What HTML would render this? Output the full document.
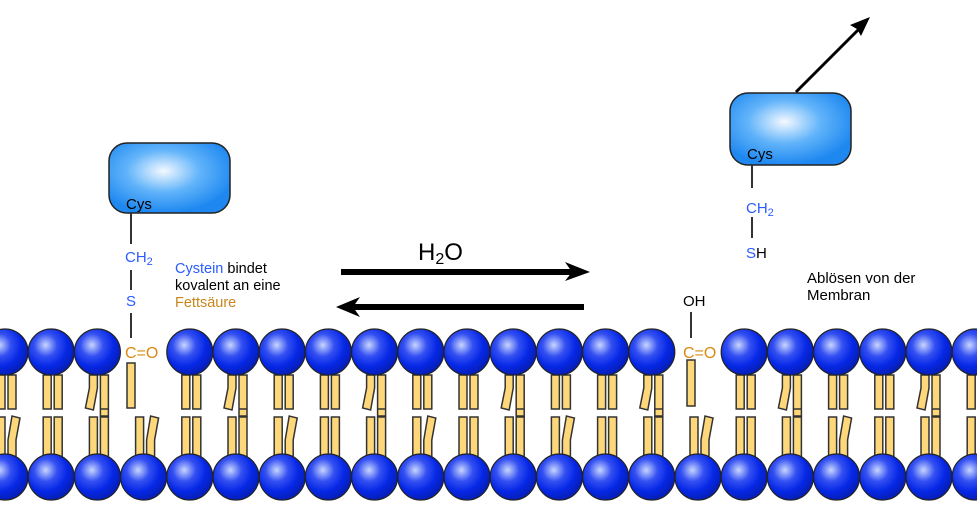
<!DOCTYPE html>
<html><head><meta charset="utf-8"><style>
html,body{margin:0;padding:0;background:#fff;}
svg{display:block;}
text{font-family:"Liberation Sans",sans-serif;}
</style></head><body>
<svg width="977" height="516" viewBox="0 0 977 516" xmlns="http://www.w3.org/2000/svg">
<defs>
<radialGradient id="sg" cx="0.38" cy="0.35" r="0.62">
<stop offset="0" stop-color="#c8d6ff"/><stop offset="0.4" stop-color="#3450f2"/><stop offset="0.75" stop-color="#0628e6"/><stop offset="1" stop-color="#0620c0"/>
</radialGradient>
<radialGradient id="pg" cx="0.45" cy="0.4" r="0.6">
<stop offset="0" stop-color="#f4f9ff"/><stop offset="0.5" stop-color="#62b4fa"/><stop offset="1" stop-color="#1e88f0"/>
</radialGradient>
<g id="tt" fill="#fdd77a" stroke="#333" stroke-width="1.5">
<rect x="-8" y="375" width="8" height="34"/><rect x="3" y="375" width="8" height="34"/></g>
<g id="tb" fill="#fdd77a" stroke="#333" stroke-width="1.5">
<path d="M-8,375 L0,375 L0,388 L-4,410 L-12,408 L-8,388 Z"/><rect x="3" y="375" width="8" height="41"/><line x1="3" y1="409" x2="11" y2="409"/></g>
<g id="bt" fill="#fdd77a" stroke="#333" stroke-width="1.5">
<rect x="-8" y="417" width="8" height="40"/><rect x="3" y="417" width="8" height="40"/></g>
<g id="bb" fill="#fdd77a" stroke="#333" stroke-width="1.5">
<rect x="-8" y="417" width="8" height="40"/><path d="M3,457 L3,440 L7,416 L15,418 L11,440 L11,457 Z"/></g>
<circle id="s" cx="0" cy="0" r="23" fill="url(#sg)" stroke="#222" stroke-width="1.2"/>
</defs>

<use href="#tt" x="5"/><use href="#tt" x="51.2"/><use href="#tb" x="97.4"/>
<rect x="127" y="363" width="8" height="45" fill="#fdd77a" stroke="#333" stroke-width="1.5"/>
<use href="#tt" x="189.8"/><use href="#tb" x="236"/><use href="#tt" x="282.2"/><use href="#tt" x="328.4"/><use href="#tb" x="374.6"/><use href="#tt" x="420.8"/><use href="#tt" x="467"/><use href="#tb" x="513.2"/><use href="#tt" x="559.4"/><use href="#tt" x="605.6"/><use href="#tb" x="651.8"/>
<rect x="687" y="360" width="8" height="46" fill="#fdd77a" stroke="#333" stroke-width="1.5"/>
<use href="#tt" x="744.2"/><use href="#tb" x="790.4"/><use href="#tt" x="836.6"/><use href="#tt" x="882.8"/><use href="#tb" x="929"/><use href="#tt" x="975.2"/>

<use href="#bb" x="5"/><use href="#bt" x="51.2"/><use href="#bt" x="97.4"/><use href="#bb" x="143.6"/><use href="#bt" x="189.8"/><use href="#bt" x="236"/><use href="#bb" x="282.2"/><use href="#bt" x="328.4"/><use href="#bt" x="374.6"/><use href="#bb" x="420.8"/><use href="#bt" x="467"/><use href="#bt" x="513.2"/><use href="#bb" x="559.4"/><use href="#bt" x="605.6"/><use href="#bt" x="651.8"/><use href="#bb" x="698"/><use href="#bt" x="744.2"/><use href="#bt" x="790.4"/><use href="#bb" x="836.6"/><use href="#bt" x="882.8"/><use href="#bt" x="929"/><use href="#bb" x="975.2"/>

<g transform="translate(0,352)">
<use href="#s" x="5"/><use href="#s" x="51.2"/><use href="#s" x="97.4"/><use href="#s" x="189.8"/><use href="#s" x="236"/><use href="#s" x="282.2"/><use href="#s" x="328.4"/><use href="#s" x="374.6"/><use href="#s" x="420.8"/><use href="#s" x="467"/><use href="#s" x="513.2"/><use href="#s" x="559.4"/><use href="#s" x="605.6"/><use href="#s" x="651.8"/><use href="#s" x="744.2"/><use href="#s" x="790.4"/><use href="#s" x="836.6"/><use href="#s" x="882.8"/><use href="#s" x="929"/><use href="#s" x="975.2"/>
</g>
<g transform="translate(0,477)">
<use href="#s" x="5"/><use href="#s" x="51.2"/><use href="#s" x="97.4"/><use href="#s" x="143.6"/><use href="#s" x="189.8"/><use href="#s" x="236"/><use href="#s" x="282.2"/><use href="#s" x="328.4"/><use href="#s" x="374.6"/><use href="#s" x="420.8"/><use href="#s" x="467"/><use href="#s" x="513.2"/><use href="#s" x="559.4"/><use href="#s" x="605.6"/><use href="#s" x="651.8"/><use href="#s" x="698"/><use href="#s" x="744.2"/><use href="#s" x="790.4"/><use href="#s" x="836.6"/><use href="#s" x="882.8"/><use href="#s" x="929"/><use href="#s" x="975.2"/>
</g>

<rect x="109" y="143" width="121" height="70" rx="18" fill="url(#pg)" stroke="#222" stroke-width="1.5"/>
<text x="126" y="209" font-size="15" fill="#000">Cys</text>
<g stroke="#333" stroke-width="2"><line x1="131" y1="213" x2="131" y2="244"/><line x1="131" y1="270" x2="131" y2="290"/><line x1="131" y1="313" x2="131" y2="338"/></g>
<text x="125" y="262" font-size="15" fill="#2a5cff">CH<tspan font-size="11" dy="3">2</tspan></text>
<text x="126" y="306" font-size="15" fill="#2a5cff">S</text>
<text x="125" y="358" font-size="16" fill="#d98a10">C=O</text>
<text x="175" y="273" font-size="14.5" fill="#000"><tspan fill="#2a5cff">Cystein</tspan> bindet</text>
<text x="175" y="290" font-size="14.5" fill="#000">kovalent an eine</text>
<text x="175" y="307" font-size="14.5" fill="#c8861a">Fettsäure</text>

<text x="418" y="260" font-size="24" fill="#000">H<tspan font-size="16" dy="4">2</tspan><tspan dy="-4">O</tspan></text>
<line x1="341" y1="272" x2="575" y2="272" stroke="#000" stroke-width="6"/>
<polygon points="565,262 590,272 565,281 572,272" fill="#000"/>
<line x1="584" y1="307" x2="350" y2="307" stroke="#000" stroke-width="6"/>
<polygon points="360,297 336,307 360,317 353,307" fill="#000"/>

<line x1="796" y1="92" x2="864" y2="24" stroke="#000" stroke-width="3"/>
<polygon points="870,17 850,25 857,29 861,36" fill="#000"/>
<rect x="730" y="93" width="121" height="72" rx="18" fill="url(#pg)" stroke="#222" stroke-width="1.5"/>
<text x="747" y="159" font-size="15" fill="#000">Cys</text>
<g stroke="#333" stroke-width="2"><line x1="752" y1="165" x2="752" y2="188"/><line x1="752" y1="217" x2="752" y2="238"/><line x1="691" y1="312" x2="691" y2="338"/></g>
<text x="746" y="213" font-size="15" fill="#2a5cff">CH<tspan font-size="11" dy="3">2</tspan></text>
<text x="746" y="258" font-size="15" fill="#2a5cff">S<tspan fill="#000">H</tspan></text>
<text x="683" y="306" font-size="15" fill="#000">OH</text>
<text x="683" y="358" font-size="16" fill="#d98a10">C=O</text>
<text x="807" y="283" font-size="15" fill="#000">Ablösen von der</text>
<text x="807" y="300" font-size="15" fill="#000">Membran</text>
</svg>
</body></html>
